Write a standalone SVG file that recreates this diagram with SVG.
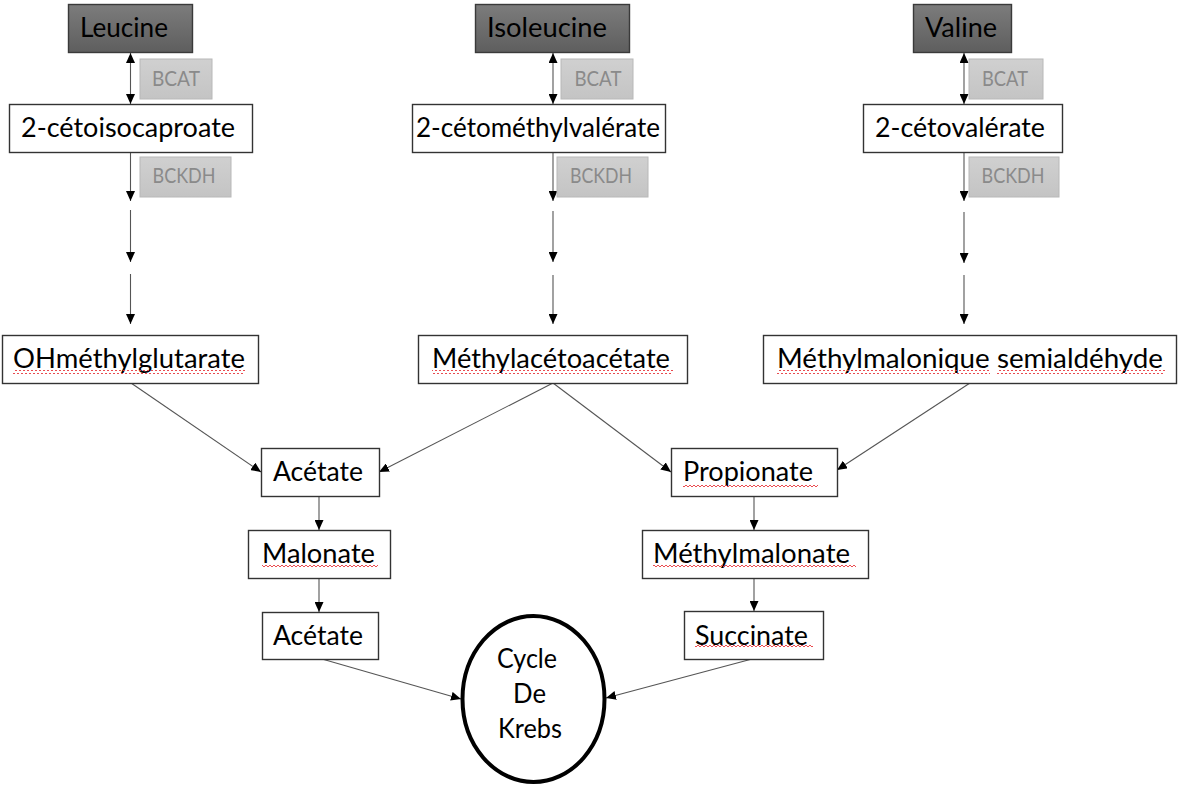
<svg xmlns="http://www.w3.org/2000/svg" width="1178" height="785" viewBox="0 0 1178 785">
<defs>
<linearGradient id="dark" x1="0" y1="0" x2="0" y2="1">
<stop offset="0" stop-color="#7c7c7c"/>
<stop offset="1" stop-color="#5e5e5e"/>
</linearGradient>
<linearGradient id="light" x1="0" y1="0" x2="0" y2="1">
<stop offset="0" stop-color="#d0d0d0"/>
<stop offset="1" stop-color="#c4c4c4"/>
</linearGradient>
<pattern id="wave" width="4" height="4" patternUnits="userSpaceOnUse">
<polyline points="0,3 2,1 4,3" fill="none" stroke="#e8383c" stroke-width="0.9"/>
</pattern>
<marker id="ah" markerUnits="userSpaceOnUse" markerWidth="10" markerHeight="9" refX="10" refY="4.5" orient="auto-start-reverse">
<path d="M0,0 L10,4.5 L0,9 z" fill="#000"/>
</marker>
</defs>
<style>
.box{fill:#fff;stroke:#333;stroke-width:1.4}
.aa{fill:url(#dark);stroke:#3a3a3a;stroke-width:1.4}
.enz{fill:url(#light);stroke:#b8b8b8;stroke-width:1}
.t{font-family:Lato,"Liberation Sans",sans-serif;font-size:27px;fill:#000;text-anchor:middle}
.e{font-family:Lato,"Liberation Sans",sans-serif;font-size:21px;fill:#8a8a8a;text-anchor:middle}
.c{fill:none;stroke:#555;stroke-width:1.1;marker-end:url(#ah)}
.cd{fill:none;stroke:#555;stroke-width:1.1;marker-end:url(#ah);marker-start:url(#ah)}
.sq{fill:url(#wave)}
</style>

<g id="connectors">
<line class="cd" x1="130.5" y1="53" x2="130.5" y2="104"/>
<line class="c" x1="130.5" y1="152" x2="130.5" y2="201"/>
<line class="c" x1="130.5" y1="210" x2="130.5" y2="262"/>
<line class="c" x1="130.5" y1="274" x2="130.5" y2="324"/>
<line class="cd" x1="553" y1="53" x2="553" y2="104"/>
<line class="c" x1="553" y1="152" x2="553" y2="201"/>
<line class="c" x1="553" y1="211" x2="553" y2="262"/>
<line class="c" x1="553" y1="275" x2="553" y2="324"/>
<line class="cd" x1="964" y1="53" x2="964" y2="104"/>
<line class="c" x1="964" y1="152" x2="964" y2="201"/>
<line class="c" x1="964" y1="212" x2="964" y2="263"/>
<line class="c" x1="964" y1="275" x2="964" y2="324"/>
<line class="c" x1="131" y1="383" x2="261" y2="472"/>
<line class="c" x1="553" y1="383" x2="379" y2="472"/>
<line class="c" x1="553" y1="383" x2="671" y2="472"/>
<line class="c" x1="970" y1="383" x2="837" y2="470"/>
<line class="c" x1="319" y1="496" x2="319" y2="530"/>
<line class="c" x1="319" y1="578" x2="319" y2="612"/>
<line class="c" x1="754" y1="496" x2="754" y2="530"/>
<line class="c" x1="754" y1="578" x2="754" y2="611"/>
<line class="c" x1="322" y1="659" x2="461" y2="699"/>
<line class="c" x1="752" y1="659" x2="606" y2="698"/>
</g>

<g id="leucine"><rect class="aa" x="68.5" y="4.5" width="124" height="48"/><text class="t" x="124" y="37" textLength="88" lengthAdjust="spacingAndGlyphs">Leucine</text></g>
<g id="isoleucine"><rect class="aa" x="475.5" y="4.5" width="154" height="48"/><text class="t" x="547" y="37" textLength="120" lengthAdjust="spacingAndGlyphs">Isoleucine</text></g>
<g id="valine"><rect class="aa" x="913.5" y="4.5" width="98" height="48"/><text class="t" x="961" y="37" textLength="72" lengthAdjust="spacingAndGlyphs">Valine</text></g>

<g id="bcat1"><rect class="enz" x="140" y="59" width="72" height="40"/><text class="e" x="176" y="86" textLength="48" lengthAdjust="spacingAndGlyphs">BCAT</text></g>
<g id="bcat2"><rect class="enz" x="561" y="59" width="72" height="40"/><text class="e" x="598" y="86" textLength="47" lengthAdjust="spacingAndGlyphs">BCAT</text></g>
<g id="bcat3"><rect class="enz" x="969" y="59" width="74" height="40"/><text class="e" x="1005" y="86" textLength="46" lengthAdjust="spacingAndGlyphs">BCAT</text></g>

<g id="ceto1"><rect class="box" x="9.5" y="104.5" width="243" height="48"/><text class="t" x="128" y="137" textLength="214" lengthAdjust="spacingAndGlyphs">2-cétoisocaproate</text></g>
<g id="ceto2"><rect class="box" x="412.5" y="104.5" width="253" height="48"/><text class="t" x="538" y="137" textLength="244" lengthAdjust="spacingAndGlyphs">2-cétométhylvalérate</text></g>
<g id="ceto3"><rect class="box" x="863.5" y="104.5" width="199" height="48"/><text class="t" x="960" y="137" textLength="170" lengthAdjust="spacingAndGlyphs">2-cétovalérate</text></g>

<g id="bckdh1"><rect class="enz" x="140" y="157" width="91" height="40"/><text class="e" x="184" y="183" textLength="63" lengthAdjust="spacingAndGlyphs">BCKDH</text></g>
<g id="bckdh2"><rect class="enz" x="557" y="157" width="91" height="40"/><text class="e" x="601" y="183" textLength="62" lengthAdjust="spacingAndGlyphs">BCKDH</text></g>
<g id="bckdh3"><rect class="enz" x="969" y="157" width="90" height="40"/><text class="e" x="1013" y="183" textLength="63" lengthAdjust="spacingAndGlyphs">BCKDH</text></g>

<g id="ohmethylglutarate"><rect class="box" x="2.5" y="335.5" width="256" height="48"/><text class="t" x="129" y="368" textLength="232" lengthAdjust="spacingAndGlyphs">OHméthylglutarate</text><rect class="sq" x="13" y="370" width="232" height="4"/></g>
<g id="methylacetoacetate"><rect class="box" x="418.5" y="335.5" width="269" height="48"/><text class="t" x="551" y="368" textLength="238" lengthAdjust="spacingAndGlyphs">Méthylacétoacétate</text><rect class="sq" x="432" y="370" width="241" height="4"/></g>
<g id="methylmalonique"><rect class="box" x="763.5" y="335.5" width="413" height="48"/><text class="t" x="970" y="368" textLength="386" lengthAdjust="spacingAndGlyphs">Méthylmalonique semialdéhyde</text><rect class="sq" x="777" y="370" width="213" height="4"/><rect class="sq" x="997" y="370" width="168" height="4"/></g>

<g id="acetate1"><rect class="box" x="261.5" y="448.5" width="118" height="48"/><text class="t" x="318" y="481" textLength="90" lengthAdjust="spacingAndGlyphs">Acétate</text></g>
<g id="propionate"><rect class="box" x="671.5" y="448.5" width="166" height="48"/><text class="t" x="748" y="481" textLength="130" lengthAdjust="spacingAndGlyphs">Propionate</text><rect class="sq" x="683" y="483" width="135" height="4"/></g>

<g id="malonate"><rect class="box" x="248.5" y="530.5" width="142" height="48"/><text class="t" x="318.5" y="563" textLength="113" lengthAdjust="spacingAndGlyphs">Malonate</text><rect class="sq" x="262" y="564" width="116" height="4"/></g>
<g id="methylmalonate"><rect class="box" x="642.5" y="530.5" width="226" height="48"/><text class="t" x="751.5" y="563" textLength="197" lengthAdjust="spacingAndGlyphs">Méthylmalonate</text><rect class="sq" x="653" y="565" width="203" height="4"/></g>

<g id="acetate2"><rect class="box" x="262.5" y="612.5" width="116" height="47"/><text class="t" x="318" y="645" textLength="90" lengthAdjust="spacingAndGlyphs">Acétate</text></g>
<g id="succinate"><rect class="box" x="684.5" y="611.5" width="139" height="48"/><text class="t" x="751.5" y="645" textLength="113" lengthAdjust="spacingAndGlyphs">Succinate</text><rect class="sq" x="695" y="645" width="118" height="4"/></g>

<g id="krebs"><ellipse cx="533.5" cy="699" rx="71" ry="83" fill="#fff" stroke="#000" stroke-width="4"/>
<text class="t" x="527" y="668" textLength="60" lengthAdjust="spacingAndGlyphs">Cycle</text>
<text class="t" x="529.5" y="703" textLength="33" lengthAdjust="spacingAndGlyphs">De</text>
<text class="t" x="530" y="738" textLength="64" lengthAdjust="spacingAndGlyphs">Krebs</text></g>
</svg>
